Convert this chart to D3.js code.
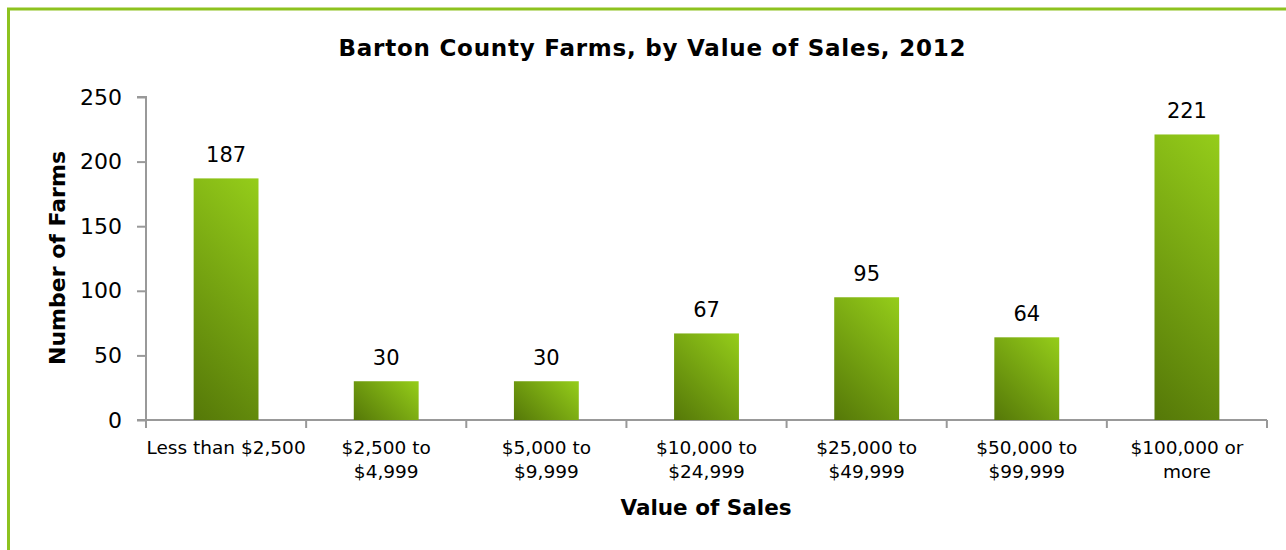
<!DOCTYPE html>
<html><head><meta charset="utf-8">
<script src="https://cdn.jsdelivr.net/npm/d3@7/dist/d3.min.js"></script>
<style>
html,body{margin:0;padding:0;background:#fff;}
svg{display:block;}
text{font-family:"DejaVu Sans",sans-serif;fill:#000;}
</style></head>
<body>
<svg id="chart" width="1286" height="550"></svg>
<script>
const categories = [
  ["Less than $2,500"],
  ["$2,500 to", "$4,999"],
  ["$5,000 to", "$9,999"],
  ["$10,000 to", "$24,999"],
  ["$25,000 to", "$49,999"],
  ["$50,000 to", "$99,999"],
  ["$100,000 or", "more"]
];
const farms = [187, 30, 30, 67, 95, 64, 221];
const yTicks = [0, 50, 100, 150, 200, 250];
const title = "Barton County Farms, by Value of Sales, 2012";
const xTitle = "Value of Sales";
const yTitle = "Number of Farms";

const svg = d3.select("#chart");
const W = 1286, H = 550;
const m = {left:146, right:19, top:97, bottom:130};
const x = d3.scaleBand().domain(d3.range(categories.length))
  .range([m.left, W - m.right]).paddingInner(0.595).paddingOuter(0.2975);
const y = d3.scaleLinear().domain([0, 250]).range([H - m.bottom, m.top]);

// frame
svg.append("rect").attr("x", 8.5).attr("y", 9).attr("width", 1400).attr("height", 700)
  .attr("fill", "none").attr("stroke", "#8dc21f").attr("stroke-width", 3);

const defs = svg.append("defs");
const bw = x.bandwidth();
farms.forEach((v, i) => {
  const x0 = x(i), y1 = y(0), y0 = y(v), h = y1 - y0;
  const d = (bw + h) / 2;
  const g = defs.append("linearGradient").attr("id", "g" + i)
    .attr("gradientUnits", "userSpaceOnUse")
    .attr("x1", x0).attr("y1", y1).attr("x2", x0 + d).attr("y2", y1 - d);
  g.append("stop").attr("offset", "0").attr("stop-color", "#557808");
  g.append("stop").attr("offset", "1").attr("stop-color", "#95cd1a");
});

// title
svg.append("text").attr("x", 652).attr("y", 56).attr("text-anchor", "middle")
  .style("font-weight", "bold").style("font-size", "23px")
  .attr("textLength", 627).attr("lengthAdjust", "spacing").text(title);

// y axis
const yAxis = svg.append("g").attr("transform", `translate(${m.left},0)`)
  .call(d3.axisLeft(y).tickValues(yTicks).tickSize(9).tickPadding(15));
yAxis.selectAll("text").style("font-size", "22px")
  .style("font-family", '"DejaVu Sans",sans-serif');
yAxis.selectAll("line,path").attr("stroke", "#999").attr("stroke-width", 2);
yAxis.select(".domain").attr("d", `M-9,${y(250)}H0V${y(0) + 7}`);

// x axis
const xAxis = svg.append("g").attr("transform", `translate(0,${y(0)})`);
xAxis.append("line").attr("x1", m.left - 9).attr("x2", W - m.right)
  .attr("y1", 0).attr("y2", 0).attr("stroke", "#999").attr("stroke-width", 2);
const bounds = d3.range(categories.length + 1).map(i =>
  i < categories.length ? x(i) - x.step() * x.paddingInner() / 2 : W - m.right);
xAxis.selectAll("line.tk").data(bounds).join("line").attr("class", "tk")
  .attr("x1", d => d).attr("x2", d => d).attr("y1", 0).attr("y2", 8)
  .attr("stroke", "#999").attr("stroke-width", 2);
xAxis.selectAll("text.lbl").data(categories).join("text").attr("class", "lbl")
  .attr("text-anchor", "middle").style("font-size", "18.5px")
  .attr("transform", (d, i) => `translate(${x(i) + bw / 2},0)`)
  .each(function(d) {
    d3.select(this).selectAll("tspan").data(d).join("tspan")
      .attr("x", 0).attr("y", (t, j) => 34 + j * 24).text(t => t);
  });

// bars
svg.selectAll("rect.bar").data(farms).join("rect").attr("class", "bar")
  .attr("x", (d, i) => x(i)).attr("y", d => y(d))
  .attr("width", bw).attr("height", d => y(0) - y(d))
  .attr("fill", (d, i) => `url(#g${i})`);

// value labels
svg.selectAll("text.val").data(farms).join("text").attr("class", "val")
  .attr("x", (d, i) => x(i) + bw / 2).attr("y", d => y(d) - 16.5)
  .attr("text-anchor", "middle").style("font-size", "21px").text(d => d);

// axis titles
svg.append("text").attr("x", 706).attr("y", 515).attr("text-anchor", "middle")
  .style("font-weight", "bold").style("font-size", "21.5px").text(xTitle);
svg.append("text").attr("transform", "translate(65,258) rotate(-90)")
  .attr("text-anchor", "middle").style("font-weight", "bold").style("font-size", "22px").text(yTitle);
</script>
</body></html>
